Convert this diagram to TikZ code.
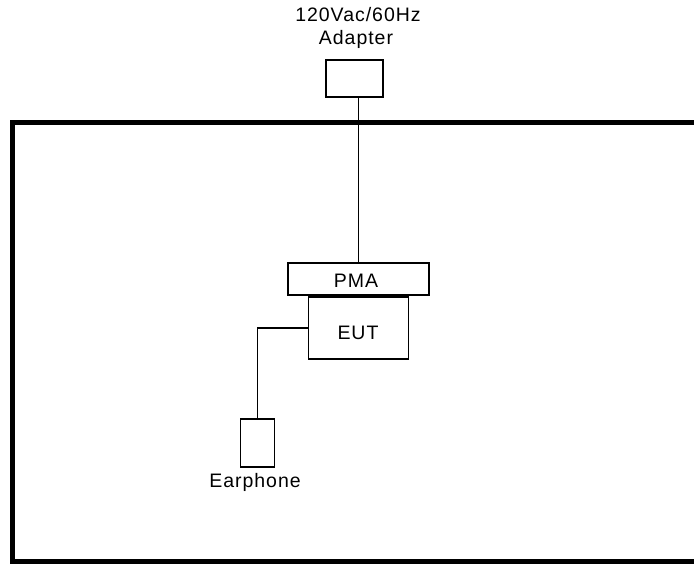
\documentclass[tikz,border=0pt]{standalone}
\usepackage{fontspec}
\setmainfont{Liberation Sans}[LetterSpace=5]
\begin{document}
\begin{tikzpicture}[x=1pt,y=-1pt,
  box/.style={draw,line width=1.6pt,inner sep=0pt,outer sep=0pt},
  lbl/.style={font=\fontsize{19.5}{22}\selectfont,inner sep=0pt,anchor=base},
  wire/.style={line width=1.6pt}]
\useasboundingbox (0,0) rectangle (694,564);
\fill[white] (0,0) rectangle (694,564);
% frame
\draw[line width=5pt] (720,122.5) -- (12.5,122.5) -- (12.5,561) -- (720,561);
% adapter
\node[box,minimum width=57pt,minimum height=37pt] (adapter) at (354.5,78.5) {};
\node[lbl] (t1) at (358,21.5) {120Vac/60Hz};
\node[lbl] (t2) at (356,45) {Adapter};
% PMA and EUT
\node[box,minimum width=141pt,minimum height=32pt] (pma) at (358.5,279) {};
\node[lbl] (pmat) at (356,287.5) {PMA};
\node[box,minimum width=100pt,minimum height=62pt] (eut) at (358.3,328) {};
\node[lbl] (eutt) at (358,339.5) {EUT};
% earphone
\node[box,minimum width=34pt,minimum height=48pt] (ear) at (257.5,443) {};
\node[lbl] (eart) at (255,487.5) {Earphone};
% wires
\draw[wire] (pma.north |- adapter.south) -- (pma.north);
\draw[wire] (eut.west) -| (ear.north);
\end{tikzpicture}
\end{document}
